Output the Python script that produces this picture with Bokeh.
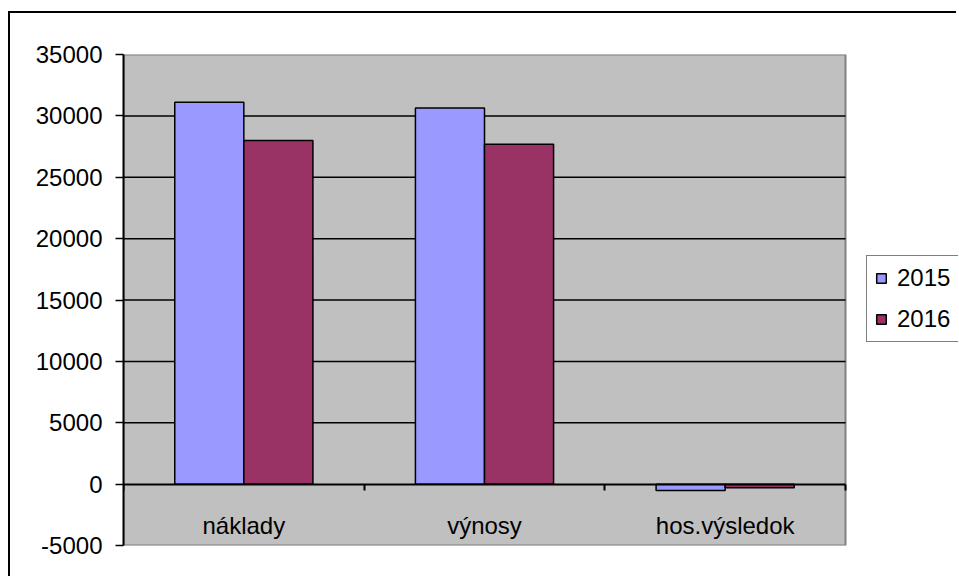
from bokeh.plotting import figure
from bokeh.models import Range1d, FixedTicker, LinearAxis, Legend, LegendItem
from bokeh.transform import dodge
from bokeh.embed import file_html
from bokeh.resources import INLINE

categories = ["náklady", "výnosy", "hos.výsledok"]
series_names = ["2015", "2016"]
values_2015 = [31100, 30650, -520]
values_2016 = [28000, 27680, -300]
y_ticks = [-5000, 0, 5000, 10000, 15000, 20000, 25000, 30000, 35000]
colors = ["#9999FF", "#993366"]

FONT = "Liberation Sans"

n = len(categories)
centers = [i + 0.5 for i in range(n)]
bounds = list(range(n + 1))
grid_ticks = y_ticks[2:-1]

# layout (pixels): plot area 722 px wide inside a 835 px frame that also hosts the legend
AREA_PX = 722
FRAME_PX = 835

p = figure(
    x_range=Range1d(0, n * FRAME_PX / AREA_PX),
    y_range=Range1d(y_ticks[0], y_ticks[-1]),
    width=948, height=565,
    min_border_left=113, min_border_right=0, min_border_top=41, min_border_bottom=33,
    output_backend="svg", toolbar_location=None,
    background_fill_color="white", border_fill_color="white",
    outline_line_color=None,
    x_axis_location=None,
    styles={"border-left": "2px solid black", "border-top": "2px solid black",
            "margin-top": "11px", "margin-left": "8px"},
)
p.xgrid.grid_line_color = None
p.ygrid.grid_line_color = None

# grey plot area
p.quad(left=[bounds[0]], right=[bounds[-1]], bottom=[y_ticks[0]], top=[y_ticks[-1]],
       fill_color="#C0C0C0", line_color="#808080", line_width=2, level="image")

# horizontal gridlines limited to the plot area
p.segment(x0=[bounds[0]] * len(grid_ticks), x1=[bounds[-1]] * len(grid_ticks),
          y0=grid_ticks, y1=grid_ticks, line_color="black", line_width=1.5)

bar_w = 0.287
src = dict(x=centers, v2015=values_2015, v2016=values_2016)
r1 = p.vbar(x=dodge("x", -bar_w / 2), top="v2015", width=bar_w, source=src,
            fill_color=colors[0], line_color="black", line_width=1.5)
r2 = p.vbar(x=dodge("x", bar_w / 2), top="v2016", width=bar_w, source=src,
            fill_color=colors[1], line_color="black", line_width=1.5)

# y axis
yax = p.yaxis[0]
yax.ticker = FixedTicker(ticks=y_ticks)
yax.major_label_overrides = {t: str(t) for t in y_ticks}
yax.axis_line_color = "black"
yax.axis_line_width = 2
yax.major_tick_line_color = "black"
yax.major_tick_line_width = 1.5
yax.major_tick_out = 8
yax.major_tick_in = 0
yax.minor_tick_line_color = None
yax.major_label_standoff = 13
yax.major_label_text_font = FONT
yax.major_label_text_font_size = "24px"
yax.major_label_text_color = "black"

# category axis at zero
xax = LinearAxis(ticker=FixedTicker(ticks=centers),
                 major_label_overrides={c: lab for c, lab in zip(centers, categories)})
xax.fixed_location = 0
xax.bounds = (bounds[0], bounds[-1])
xax.axis_line_color = "black"
xax.axis_line_width = 2
xax.major_tick_line_color = None
xax.major_tick_out = 0
xax.major_tick_in = 0
xax.minor_tick_line_color = None
xax.major_label_standoff = 28
xax.major_label_text_font = FONT
xax.major_label_text_font_size = "24px"
xax.major_label_text_color = "black"
p.add_layout(xax, "below")

# boundary ticks between categories
bax = LinearAxis(ticker=FixedTicker(ticks=bounds))
bax.fixed_location = 0
bax.bounds = (bounds[0], bounds[-1])
bax.axis_line_color = None
bax.major_tick_line_color = "black"
bax.major_tick_line_width = 2
bax.major_tick_out = 6
bax.major_tick_in = 0
bax.minor_tick_line_color = None
bax.major_label_text_color = None
bax.major_label_text_font_size = "1px"
p.add_layout(bax, "below")

legend = Legend(
    items=[LegendItem(label=series_names[0], renderers=[r1]),
           LegendItem(label=series_names[1], renderers=[r2])],
    location=(743, 203),
    border_line_color="black", border_line_width=1.5,
    background_fill_color="white", background_fill_alpha=1,
    label_text_font=FONT, label_text_font_size="24px", label_text_color="black",
    glyph_width=12, glyph_height=12, label_standoff=10, padding=8, spacing=13,
    margin=0,
)
p.add_layout(legend)

open("out.html", "w").write(file_html(p, INLINE))
